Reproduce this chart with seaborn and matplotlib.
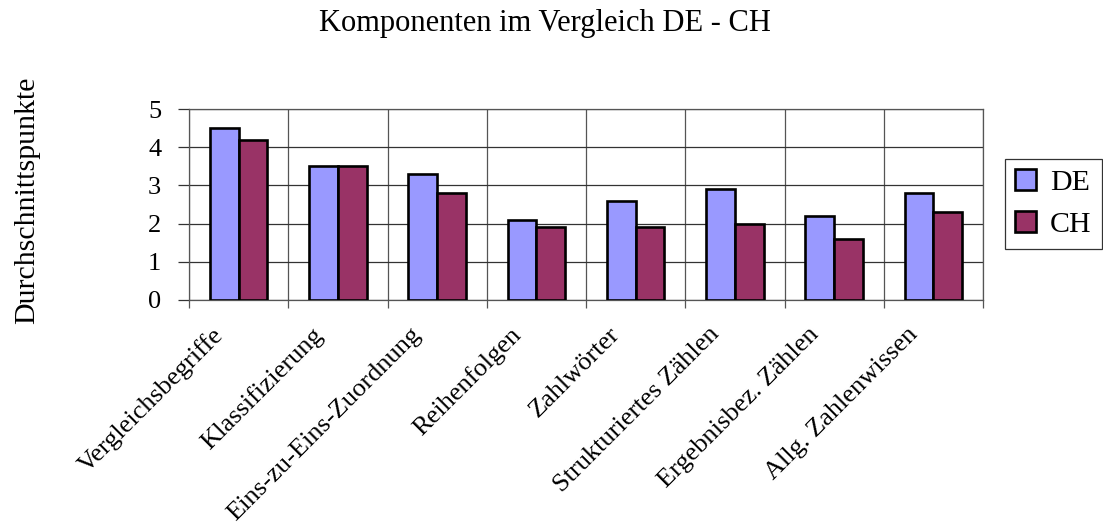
import matplotlib
matplotlib.use("Agg")
import matplotlib.pyplot as plt
import matplotlib.transforms as mtransforms
import seaborn as sns
import pandas as pd
from matplotlib.ticker import FixedLocator

categories = ["Vergleichsbegriffe", "Klassifizierung", "Eins-zu-Eins-Zuordnung",
              "Reihenfolgen", "Zahlwörter", "Strukturiertes Zählen",
              "Ergebnisbez. Zählen", "Allg. Zahlenwissen"]
de_values = [4.5, 3.5, 3.3, 2.1, 2.6, 2.9, 2.2, 2.8]
ch_values = [4.2, 3.5, 2.8, 1.9, 1.9, 2.0, 1.6, 2.3]
series = ["DE", "CH"]
colors = ["#9999FF", "#993366"]

df = pd.DataFrame({
    "Komponente": categories * 2,
    "Punkte": de_values + ch_values,
    "Land": [series[0]] * len(categories) + [series[1]] * len(categories),
})

sns.set_theme(style="white")
plt.rcParams["font.family"] = ["Liberation Serif", "DejaVu Serif"]
plt.rcParams["text.color"] = "black"
plt.rcParams["xtick.color"] = "black"
plt.rcParams["ytick.color"] = "black"

fig = plt.figure(figsize=(11.03, 5.25), dpi=100)
ax = fig.add_axes([189 / 1103, 1 - 300 / 525, (983 - 189) / 1103, (300 - 109) / 525])

sns.barplot(data=df, x="Komponente", y="Punkte", hue="Land", order=categories,
            hue_order=series, palette=colors, width=0.58, gap=0,
            edgecolor="black", linewidth=1.9, saturation=1, ax=ax, zorder=3)

ax.set_xlim(-0.5, len(categories) - 0.5)
ax.set_ylim(0, 5)
ax.set_yticks([0, 1, 2, 3, 4, 5])

# category boundaries as vertical grid lines
ax.xaxis.set_minor_locator(FixedLocator([i - 0.5 for i in range(len(categories) + 1)]))
ax.grid(True, which="major", axis="y", color="#333333", linewidth=0.9, zorder=0)
ax.grid(True, which="minor", axis="x", color="#555555", linewidth=0.9, zorder=0)
ax.tick_params(axis="x", which="major", length=0, pad=6)
ax.tick_params(axis="x", which="minor", length=6, width=0.9, color="#555555",
               direction="out", bottom=True)
ax.tick_params(axis="y", which="major", length=8, width=0.9, color="#333333",
               direction="out", labelsize=19, pad=12, left=True)
for s in ax.spines.values():
    s.set_color("#555555")
    s.set_linewidth(0.9)

ax.set_xticks(range(len(categories)))
ax.set_xticklabels(categories, rotation=45, ha="right", va="top",
                   rotation_mode="anchor", fontsize=19)
shift = mtransforms.ScaledTranslation(-27 / 100, -15 / 100, fig.dpi_scale_trans)
for lbl in ax.get_xticklabels():
    lbl.set_transform(lbl.get_transform() + shift)
ax.set_xlabel("")
ax.set_ylabel("")

fig.text(27 / 1103, 1 - 200 / 525, "Durchschnittspunkte", rotation=90,
         ha="center", va="center", fontsize=21.5)
fig.text(545 / 1103, 1 - 24 / 525, "Komponenten im Vergleich DE - CH", ha="center",
         va="center", fontsize=22)

handles, labels = ax.get_legend_handles_labels()
leg = ax.legend(handles, labels, loc="upper left", bbox_to_anchor=(1005 / 1103, 1 - 159 / 525),
                bbox_transform=fig.transFigure, fontsize=21.5, frameon=True, fancybox=False,
                edgecolor="black", handlelength=0.7, handleheight=0.7, handletextpad=0.45,
                borderpad=0.35, labelspacing=0.5, borderaxespad=0)
leg.get_frame().set_linewidth(0.9)

fig.savefig("out.png", dpi=100)
